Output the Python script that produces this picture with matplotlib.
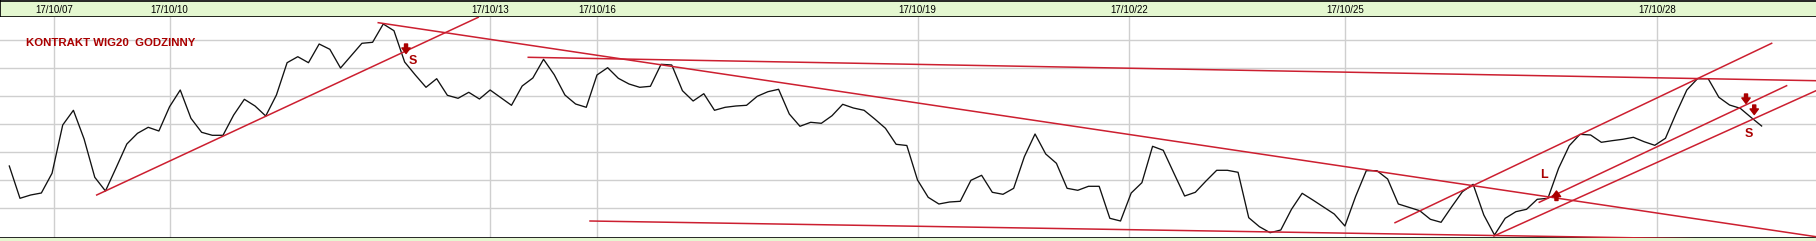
import matplotlib
matplotlib.use("Agg")
import matplotlib.pyplot as plt
from matplotlib.patches import Rectangle

# hourly closes of the WIG20 contract (arbitrary point scale)
closes = [
    2534, 2501.7, 2505, 2507, 2526.7, 2575, 2589.7, 2561, 2522.7, 2509,
    2532.3, 2556, 2566.7, 2572.7, 2569, 2593.3, 2610, 2581.7, 2567.7, 2564.7,
    2564.7, 2585, 2600.7, 2594, 2584, 2605, 2637.3, 2643.3, 2637.3, 2656,
    2650.7, 2632, 2644.3, 2656.7, 2657.7, 2676, 2669.3, 2638, 2625, 2612.7,
    2621.3, 2604.7, 2601.7, 2607.7, 2601, 2610, 2602.3, 2594.7, 2614, 2622,
    2640.7, 2625.3, 2605, 2596, 2592.7, 2625, 2632.3, 2621.7, 2616, 2612.7,
    2613.7, 2635.7, 2635, 2609.3, 2599, 2606.3, 2589.7, 2592.7, 2594, 2594.7,
    2603.7, 2608.3, 2610.7, 2586, 2573.7, 2577.7, 2576.7, 2584.3, 2595.7, 2592,
    2589.7, 2581, 2571.7, 2555.7, 2554.5, 2520, 2502.7, 2496, 2498, 2498.7,
    2519.7, 2524.7, 2507.7, 2505.7, 2511.7, 2543.3, 2566, 2546, 2536.7, 2511.7,
    2509.7, 2513.7, 2513.7, 2481.7, 2479, 2507, 2517.3, 2553.7, 2549.7, 2526.7,
    2504, 2507.7, 2519, 2529.7, 2529.7, 2527.7, 2482.3, 2473.3, 2467.3, 2470,
    2490.7, 2506.7, 2500, 2493, 2486, 2474, 2503.5, 2529.3, 2529.3, 2521,
    2496, 2492.7, 2489.3, 2480.7, 2477.7, 2493.3, 2508.3, 2515.7, 2485, 2465,
    2481.7, 2488.3, 2490.7, 2500.7, 2501.7, 2531.7, 2554.3, 2565.7, 2565, 2557.7,
    2559.3, 2560.7, 2562.7, 2558.3, 2554.7, 2561.7, 2586.7, 2610, 2621.3, 2621.3,
    2602.7, 2595, 2591.7, 2582.7, 2574,
]

# day labels and the bar index where each day starts
tick_pos = [4.2, 15, 45, 55, 85, 104.8, 125, 154.2]
tick_labels = ["17/10/07", "17/10/10", "17/10/13", "17/10/16",
               "17/10/19", "17/10/22", "17/10/25", "17/10/28"]

# hand-drawn trend lines: (x0, y0, x1, y1) in bar index / points
trend_lines = [
    (8.18, 2505, 43.89, 2682.7),
    (34.53, 2677.3, 169.09, 2463.3),
    (48.57, 2642.7, 169.09, 2619.3),
    (54.35, 2479, 169.09, 2459.3),
    (129.69, 2477.3, 164.94, 2656.7),
    (143.19, 2497.7, 166.34, 2614.3),
    (138.95, 2464, 169.09, 2609.3),
]

# signal arrows: (x, tail, tip) and letters: (x, y, text)
arrows = [
    (37.13, 2656, 2646.5),
    (144.8, 2499.5, 2509),
    (162.54, 2606, 2596.5),
    (163.31, 2595, 2585.5),
]
signals = [
    (37.81, 2639.3, "S"),
    (143.66, 2525, "L"),
    (162.84, 2566, "S"),
]

W, H = 1816, 241
fig = plt.figure(figsize=(W / 100, H / 100), dpi=100)
fig.patch.set_facecolor("white")

green = "#e4f7d0"
red_line = "#cc1f30"
dark_red = "#aa0000"

# header band with the dates
hdr = fig.add_axes([0, 1 - 17 / H, 1, 16 / H])
hdr.set_xlim(-0.87, 169.09)
hdr.set_ylim(0, 1)
hdr.set_facecolor(green)
hdr.set_xticks([])
hdr.set_yticks([])
for s in ["top", "bottom", "left"]:
    hdr.spines[s].set_color("black")
    hdr.spines[s].set_linewidth(1.2)
hdr.spines["right"].set_visible(False)
for p, lab in zip(tick_pos, tick_labels):
    hdr.text(p, 0.45, lab, ha="center", va="center", fontsize=7,
             family="Liberation Sans", color="black")

# bottom band
fig.add_artist(Rectangle((0, 0), 1, 3 / H, transform=fig.transFigure,
                         facecolor=green, edgecolor="none"))

ax = fig.add_axes([0, 3 / H, 1, 221 / H])
ax.set_xlim(-0.87, 169.09)
ax.set_ylim(2462, 2683)
ax.set_facecolor("white")
ax.set_xticks(tick_pos)
ax.set_yticks([2492, 2520, 2548, 2576, 2604, 2632, 2660])
ax.tick_params(length=0, labelbottom=False, labelleft=False)
ax.grid(True, color="#cfcfcf", linewidth=1.0)
ax.set_axisbelow(True)
for s in ["top", "left", "right"]:
    ax.spines[s].set_visible(False)
ax.spines["bottom"].set_color("black")
ax.spines["bottom"].set_linewidth(1.2)

ax.plot(range(len(closes)), closes, color="#111111", linewidth=0.95, zorder=3)

for x0, y0, x1, y1 in trend_lines:
    ax.plot([x0, x1], [y0, y1], color=red_line, linewidth=1.1, zorder=4,
            clip_on=True)

for x, tail, tip in arrows:
    ax.annotate("", xy=(x, tip), xytext=(x, tail),
                arrowprops=dict(arrowstyle="simple,head_length=0.4,head_width=0.6,tail_width=0.22",
                                color=dark_red, shrinkA=0, shrinkB=0,
                                mutation_scale=10), zorder=5)

for x, y, t in signals:
    ax.text(x, y, t, ha="center", va="center", fontsize=9, fontweight="bold",
            family="Liberation Sans", color=dark_red, zorder=5)

ax.text(1.6, 2657.5, "KONTRAKT WIG20  GODZINNY", ha="left", va="center",
        fontsize=8.2, fontweight="bold", family="Liberation Sans",
        color=dark_red, zorder=5)

fig.savefig("out.png", dpi=100)
